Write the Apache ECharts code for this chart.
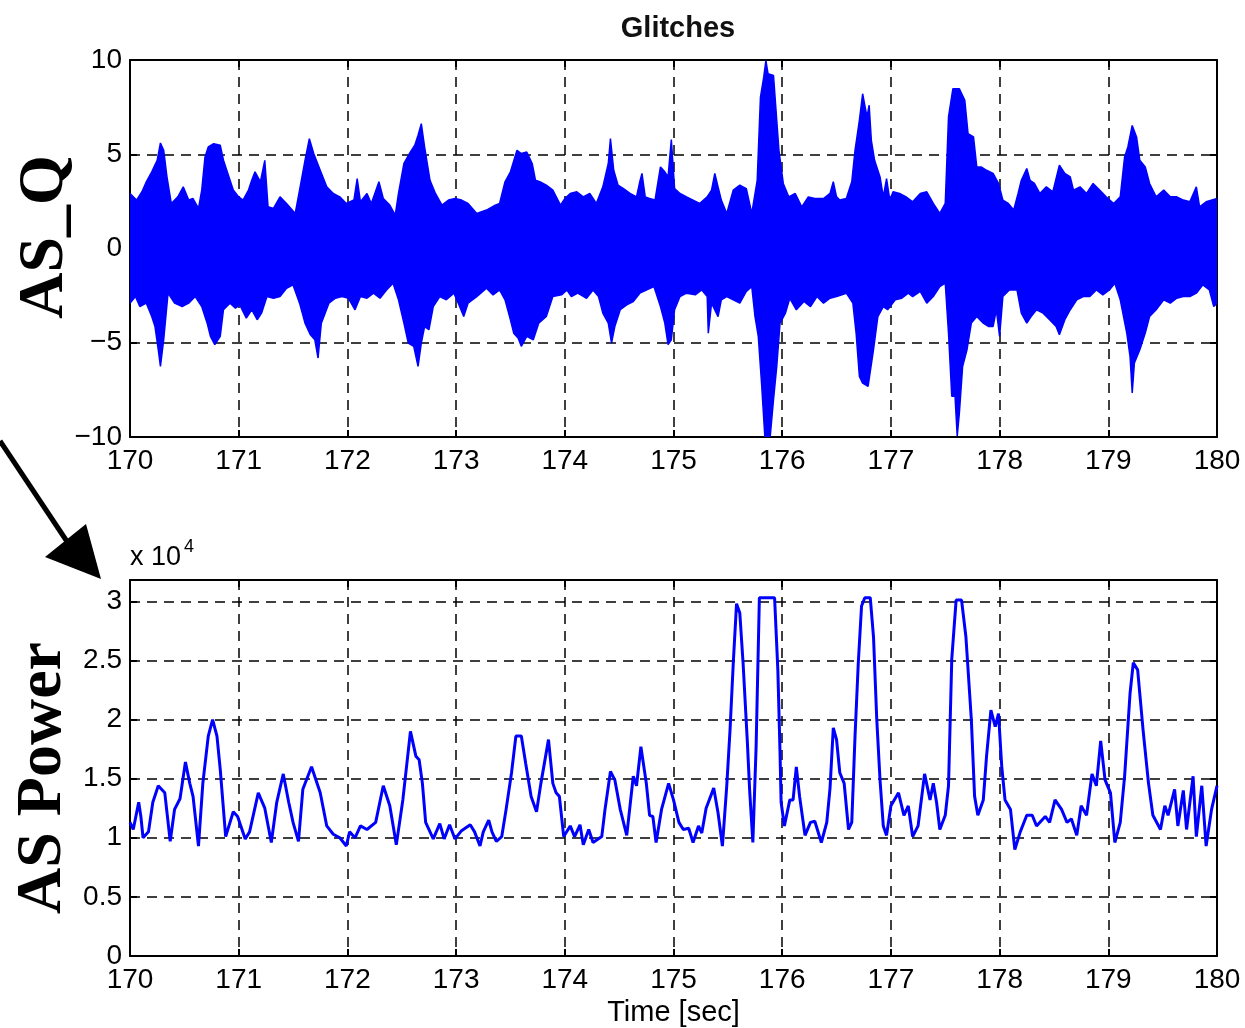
<!DOCTYPE html>
<html>
<head>
<meta charset="utf-8">
<script src="https://cdn.jsdelivr.net/npm/echarts@6/dist/echarts.min.js"></script>
<style>
html,body{margin:0;padding:0;background:#fff;}
#chart{width:1245px;height:1028px;}
</style>
</head>
<body>
<div id="chart"></div>
<script>
// ---- Data ----
var xTicks = [170, 171, 172, 173, 174, 175, 176, 177, 178, 179, 180];
var asqTicks = [-10, -5, 0, 5, 10];
var powerTicks = [0, 0.5, 1, 1.5, 2, 2.5, 3];

// AS_Q signal: upper envelope [time, value]
var asqUpper = [
[170.00,2.92],[170.06,2.57],[170.11,3.01],[170.15,3.54],[170.20,4.07],[170.25,4.68],[170.28,5.60],[170.31,5.21],[170.34,3.80],[170.38,2.39],[170.44,2.74],[170.49,3.27],[170.54,2.57],[170.58,2.65],[170.63,2.13],[170.66,3.10],[170.69,4.86],[170.72,5.39],[170.77,5.56],[170.83,5.48],[170.86,4.68],[170.90,3.98],[170.95,3.10],[171.00,2.74],[171.04,2.57],[171.09,3.10],[171.12,3.62],[171.15,4.07],[171.20,3.54],[171.24,4.68],[171.27,2.21],[171.32,2.13],[171.38,2.74],[171.44,2.39],[171.52,1.86],[171.56,3.10],[171.61,4.68],[171.65,5.83],[171.69,5.04],[171.75,4.15],[171.81,3.27],[171.87,2.92],[171.93,2.74],[171.99,2.39],[172.06,2.57],[172.09,3.71],[172.12,2.48],[172.18,2.92],[172.22,2.39],[172.29,3.54],[172.33,2.65],[172.39,2.30],[172.44,1.77],[172.47,2.92],[172.52,4.51],[172.58,5.12],[172.62,5.48],[172.65,6.01],[172.68,6.62],[172.71,5.39],[172.76,3.62],[172.81,2.92],[172.87,2.30],[172.93,2.57],[172.99,2.65],[173.05,2.57],[173.11,2.39],[173.19,1.86],
[173.28,2.04],[173.36,2.30],[173.40,2.39],[173.45,3.54],[173.50,4.07],[173.56,5.21],[173.60,5.04],[173.65,5.12],[173.70,4.51],[173.73,3.62],[173.77,3.54],[173.83,3.36],[173.89,3.10],[173.96,2.30],[174.00,2.65],[174.05,2.92],[174.11,3.01],[174.17,2.74],[174.23,2.92],[174.29,2.39],[174.35,3.27],[174.40,4.51],[174.42,5.83],[174.45,4.15],[174.49,3.36],[174.54,3.18],[174.60,2.92],[174.66,2.74],[174.69,3.54],[174.71,3.98],[174.74,2.74],[174.78,2.65],[174.83,2.57],[174.88,4.33],[174.92,4.07],[174.95,3.80],[174.98,5.78],[175.01,3.18],[175.06,2.92],[175.12,2.74],[175.18,2.57],[175.24,2.39],[175.31,2.74],[175.35,3.10],[175.38,3.98],[175.41,3.27],[175.44,2.57],[175.49,1.86],[175.55,3.10],[175.61,3.36],[175.67,3.18],[175.72,1.86],[175.77,3.62],[175.80,8.03],[175.83,9.09],[175.85,9.97],[175.87,9.27],[175.92,9.18],[175.97,5.21],[176.01,3.45],[176.06,2.74],[176.12,2.92],[176.18,2.21],[176.24,2.74],[176.30,2.65],[176.38,2.65],[176.44,2.92],[176.47,3.54],[176.50,2.74],
[176.53,2.57],[176.59,2.65],[176.64,3.54],[176.67,5.21],[176.71,6.80],[176.74,8.21],[176.78,6.98],[176.80,7.60],[176.82,5.74],[176.85,4.68],[176.90,3.80],[176.93,2.74],[176.96,3.71],[176.99,2.57],[177.02,3.01],[177.08,2.92],[177.14,2.74],[177.20,2.48],[177.27,2.92],[177.33,3.01],[177.39,2.39],[177.45,1.86],[177.50,2.39],[177.53,6.98],[177.57,8.47],[177.63,8.47],[177.68,7.86],[177.71,6.09],[177.76,5.92],[177.79,4.33],[177.83,4.33],[177.88,4.15],[177.94,3.98],[177.99,3.45],[178.03,2.57],[178.08,2.39],[178.13,2.04],[178.17,2.92],[178.20,3.62],[178.25,4.24],[178.28,3.62],[178.32,3.45],[178.37,2.92],[178.43,3.27],[178.49,3.01],[178.55,4.42],[178.60,3.98],[178.65,3.80],[178.68,3.10],[178.74,3.27],[178.80,2.92],[178.86,3.45],[178.92,3.10],[178.98,2.74],[179.05,2.39],[179.11,2.74],[179.15,4.86],[179.18,5.39],[179.22,6.53],[179.26,5.92],[179.29,4.68],[179.34,4.33],[179.38,3.45],[179.44,2.74],[179.51,3.10],[179.57,2.74],[179.63,2.74],[179.69,2.57],[179.75,2.48],[179.81,3.27],[179.84,2.21],[179.90,2.48],[180.00,2.65]
];

// AS_Q signal: lower envelope [time, value]
var asqLower = [
[170.00,-2.90],[170.05,-2.55],[170.09,-3.08],[170.15,-2.90],[170.20,-3.61],[170.23,-4.14],[170.26,-5.37],[170.28,-6.25],[170.31,-4.84],[170.35,-2.37],[170.41,-2.90],[170.48,-3.08],[170.54,-2.90],[170.60,-2.55],[170.66,-3.08],[170.71,-3.96],[170.74,-4.66],[170.78,-5.10],[170.83,-4.66],[170.86,-3.25],[170.92,-2.90],[170.97,-3.17],[171.01,-2.99],[171.07,-3.69],[171.12,-3.25],[171.17,-3.78],[171.21,-3.43],[171.26,-2.55],[171.32,-2.64],[171.38,-2.55],[171.44,-2.11],[171.50,-1.93],[171.56,-2.90],[171.61,-3.96],[171.66,-4.58],[171.70,-4.84],[171.73,-5.81],[171.76,-3.96],[171.83,-2.90],[171.89,-2.64],[171.95,-2.55],[172.01,-2.64],[172.07,-3.25],[172.12,-2.55],[172.18,-2.64],[172.24,-2.37],[172.30,-2.64],[172.36,-2.20],[172.42,-1.84],[172.47,-2.72],[172.52,-3.96],[172.56,-5.02],[172.61,-5.19],[172.65,-6.25],[172.68,-5.02],[172.71,-4.14],[172.75,-4.31],[172.79,-3.08],[172.85,-2.55],[172.91,-2.72],[172.98,-2.37],[173.02,-2.90],[173.07,-3.61],[173.11,-2.90],[173.19,-2.55],
[173.28,-2.11],[173.34,-2.46],[173.40,-2.20],[173.45,-2.72],[173.50,-3.78],[173.53,-4.49],[173.57,-4.75],[173.60,-5.19],[173.65,-4.66],[173.71,-4.84],[173.76,-3.96],[173.83,-3.61],[173.89,-2.55],[173.97,-2.46],[174.02,-2.20],[174.06,-2.55],[174.12,-2.37],[174.20,-2.64],[174.26,-2.20],[174.31,-2.55],[174.35,-3.43],[174.40,-3.96],[174.43,-5.02],[174.46,-4.14],[174.51,-3.25],[174.57,-2.99],[174.63,-2.81],[174.69,-2.37],[174.75,-2.20],[174.82,-2.02],[174.88,-3.08],[174.92,-3.96],[174.95,-5.10],[174.98,-4.84],[175.01,-3.25],[175.06,-2.55],[175.12,-2.37],[175.20,-2.46],[175.26,-2.20],[175.31,-2.55],[175.32,-4.49],[175.35,-2.90],[175.41,-3.61],[175.44,-2.72],[175.49,-2.55],[175.55,-2.72],[175.61,-2.90],[175.67,-2.28],[175.72,-2.02],[175.75,-3.61],[175.78,-4.66],[175.81,-7.14],[175.84,-9.96],[175.89,-9.96],[175.92,-8.02],[175.95,-6.25],[175.98,-3.96],[176.03,-3.43],[176.07,-2.64],[176.13,-3.25],[176.20,-2.81],[176.26,-3.08],[176.32,-2.55],[176.38,-2.90],[176.44,-2.64],[176.50,-2.55],
[176.59,-2.37],[176.65,-2.90],[176.68,-4.49],[176.71,-6.78],[176.74,-7.14],[176.79,-7.31],[176.84,-5.37],[176.88,-3.61],[176.93,-3.08],[176.97,-3.25],[177.04,-2.72],[177.10,-2.64],[177.16,-2.37],[177.20,-2.55],[177.27,-2.28],[177.33,-2.90],[177.39,-2.55],[177.45,-2.02],[177.50,-1.84],[177.53,-4.49],[177.56,-7.84],[177.59,-7.84],[177.61,-9.96],[177.63,-8.72],[177.66,-6.25],[177.70,-5.37],[177.74,-3.96],[177.79,-3.61],[177.85,-3.96],[177.90,-4.14],[177.94,-4.14],[177.97,-3.25],[178.00,-4.66],[178.03,-2.55],[178.09,-2.20],[178.16,-2.20],[178.20,-3.43],[178.25,-3.96],[178.29,-3.61],[178.34,-3.25],[178.40,-3.43],[178.46,-3.78],[178.52,-4.14],[178.55,-4.58],[178.60,-3.78],[178.65,-3.25],[178.71,-2.72],[178.77,-2.55],[178.83,-2.55],[178.89,-2.20],[178.95,-2.46],[179.01,-2.20],[179.06,-1.84],[179.11,-2.72],[179.17,-4.49],[179.20,-5.72],[179.22,-7.66],[179.24,-6.07],[179.29,-5.37],[179.34,-4.49],[179.38,-3.61],[179.44,-3.25],[179.51,-2.72],[179.57,-2.90],[179.63,-2.64],[179.69,-2.55],[179.75,-2.55],[179.81,-2.37],[179.87,-1.93],[179.93,-2.20],[179.97,-3.08],[180.00,-2.90]
];

// AS Power [time, value in units of 1e4]
var asPower = [
[170.00,1.13],[170.03,1.07],[170.08,1.30],[170.10,1.18],[170.12,1.00],[170.17,1.05],[170.21,1.30],[170.26,1.44],[170.32,1.38],[170.37,0.97],[170.41,1.24],[170.46,1.33],[170.51,1.64],[170.55,1.46],[170.58,1.35],[170.63,0.93],[170.67,1.46],[170.72,1.86],[170.76,2.00],[170.80,1.86],[170.83,1.58],[170.88,1.01],[170.95,1.22],[170.99,1.18],[171.06,0.99],[171.10,1.05],[171.18,1.38],[171.24,1.25],[171.30,0.96],[171.35,1.30],[171.41,1.54],[171.46,1.30],[171.50,1.13],[171.55,0.97],[171.59,1.41],[171.67,1.60],[171.75,1.38],[171.81,1.10],[171.87,1.03],[171.93,1.00],[171.99,0.93],[172.02,1.05],[172.07,1.00],[172.12,1.10],[172.18,1.07],[172.26,1.13],[172.33,1.44],[172.39,1.27],
[172.45,0.94],[172.51,1.32],[172.58,1.90],[172.63,1.69],[172.66,1.66],[172.69,1.46],[172.72,1.13],[172.79,0.99],[172.85,1.12],[172.89,0.99],[172.94,1.11],[172.99,0.99],[173.05,1.06],[173.13,1.11],[173.17,1.05],[173.22,0.93],[173.25,1.05],[173.30,1.15],[173.33,1.05],[173.37,0.97],[173.42,1.01],[173.46,1.24],[173.51,1.55],[173.55,1.86],[173.60,1.86],[173.64,1.63],[173.69,1.35],[173.74,1.22],[173.78,1.46],[173.85,1.83],[173.89,1.46],[173.92,1.38],[173.95,1.35],[173.99,1.01],[174.05,1.10],[174.09,1.01],[174.14,1.11],[174.17,0.94],[174.22,1.07],[174.26,0.96],[174.34,1.01],[174.37,1.24],[174.42,1.56],[174.46,1.49],[174.51,1.24],[174.57,1.02],[174.63,1.52],[174.66,1.44],[174.70,1.77],[174.75,1.46],[174.78,1.19],[174.81,1.18],[174.84,0.96],[174.89,1.24],[174.955,1.46],
[175.00,1.32],[175.05,1.13],[175.09,1.07],[175.14,1.08],[175.18,0.96],[175.23,1.10],[175.26,1.04],[175.30,1.25],[175.37,1.42],[175.41,1.21],[175.45,0.93],[175.49,1.44],[175.52,1.91],[175.55,2.48],[175.58,2.98],[175.61,2.90],[175.64,2.48],[175.68,1.80],[175.70,1.41],[175.73,0.96],[175.76,1.77],[175.79,3.03],[175.93,3.03],[175.96,2.42],[175.98,1.72],[175.99,1.30],[176.02,1.10],[176.07,1.32],[176.10,1.32],[176.13,1.60],[176.16,1.35],[176.21,1.02],[176.26,1.13],[176.30,1.14],[176.36,0.96],[176.41,1.13],[176.44,1.42],[176.47,1.93],[176.50,1.83],[176.53,1.55],[176.57,1.46],[176.61,1.07],[176.64,1.13],[176.67,1.86],[176.70,2.48],[176.73,2.96],[176.76,3.03],[176.81,3.03],[176.84,2.70],[176.87,2.00],[176.90,1.49],[176.93,1.10],[176.96,1.02],[177.00,1.27],[177.07,1.38],[177.12,1.19],[177.16,1.27],[177.20,1.01],[177.25,1.10],[177.31,1.54],[177.36,1.32],[177.39,1.46],[177.42,1.30],[177.45,1.07],[177.50,1.19],[177.53,1.44],[177.56,2.51],[177.60,3.01],[177.65,3.01],[177.69,2.70],[177.74,2.00],[177.77,1.35],[177.80,1.19],[177.85,1.32],[177.88,1.69],[177.92,2.08],[177.96,1.94],[177.99,2.05],
[178.02,1.60],[178.05,1.32],[178.10,1.24],[178.14,0.90],[178.19,1.05],[178.25,1.19],[178.30,1.19],[178.34,1.10],[178.42,1.18],[178.46,1.13],[178.51,1.32],[178.57,1.24],[178.62,1.13],[178.66,1.16],[178.71,1.02],[178.75,1.27],[178.80,1.19],[178.85,1.54],[178.89,1.44],[178.93,1.82],[178.97,1.49],[179.02,1.38],[179.06,0.96],[179.11,1.13],[179.15,1.52],[179.20,2.22],[179.23,2.48],[179.27,2.42],[179.32,1.91],[179.37,1.46],[179.41,1.19],[179.48,1.07],[179.52,1.27],[179.55,1.19],[179.61,1.41],[179.64,1.10],[179.69,1.40],[179.72,1.07],[179.78,1.52],[179.81,1.01],[179.86,1.44],[179.90,0.93],[179.95,1.24],[180.00,1.44]
];

// ---- Chart ----
var chart = echarts.init(document.getElementById('chart'), null, {renderer: 'canvas'});
var tickFont = "'Liberation Sans',Arial,sans-serif";
var dash = [10, 7];
function minus(v) { return String(v).replace('-', '\u2212'); }

function xAxisMain(grid) {
  return {
    type: 'value', gridIndex: grid, min: xTicks[0], max: xTicks[xTicks.length - 1], interval: 1,
    position: 'bottom',
    axisLine: {show: true, onZero: false, lineStyle: {color: '#000', width: 2}},
    axisTick: {show: true, inside: true, length: 7, lineStyle: {color: '#000', width: 2}},
    axisLabel: {show: true, color: '#000', fontSize: 28, fontFamily: tickFont, margin: 10, formatter: minus},
    splitLine: {show: true, lineStyle: {color: '#000', width: 1.5, type: dash}}
  };
}
function xAxisMirror(grid) {
  return {
    type: 'value', gridIndex: grid, min: xTicks[0], max: xTicks[xTicks.length - 1], interval: 1,
    position: 'top',
    axisLine: {show: true, onZero: false, lineStyle: {color: '#000', width: 2}},
    axisTick: {show: true, inside: true, length: 7, lineStyle: {color: '#000', width: 2}},
    axisLabel: {show: false}, splitLine: {show: false}
  };
}
function yAxisDef(grid, ticks, max, pos, main) {
  return {
    type: 'value', gridIndex: grid, min: ticks[0], max: max, interval: ticks[1] - ticks[0],
    position: pos,
    axisLine: {show: true, onZero: false, lineStyle: {color: '#000', width: 2}},
    axisTick: {show: true, inside: true, length: 7, lineStyle: {color: '#000', width: 2}},
    axisLabel: main ? {show: true, color: '#000', fontSize: 28, fontFamily: tickFont, margin: 8,
      showMaxLabel: max === ticks[ticks.length - 1], formatter: minus} : {show: false},
    splitLine: {show: main, lineStyle: {color: '#000', width: 1.5, type: dash}}
  };
}

var option = {
  backgroundColor: '#fff',
  animation: false,
  title: {
    text: 'Glitches', left: 673, top: 9, textAlign: 'center',
    textStyle: {fontFamily: "'Liberation Sans',Arial,sans-serif", fontWeight: 'bold', fontSize: 29, color: '#111'}
  },
  grid: [
    {left: 130, right: 28, top: 60, height: 377, containLabel: false},
    {left: 130, right: 28, top: 580, height: 377, containLabel: false}
  ],
  xAxis: [
    xAxisMain(0),
    Object.assign(xAxisMain(1), {
      name: 'Time [sec]', nameLocation: 'middle', nameGap: 42,
      nameTextStyle: {color: '#000', fontSize: 29, fontFamily: tickFont}
    }),
    xAxisMirror(0),
    xAxisMirror(1)
  ],
  yAxis: [
    yAxisDef(0, asqTicks, 10, 'left', true),
    yAxisDef(1, powerTicks, 3.18, 'left', true),
    yAxisDef(0, asqTicks, 10, 'right', false),
    yAxisDef(1, powerTicks, 3.18, 'right', false)
  ],
  series: [
    {
      type: 'line', xAxisIndex: 0, yAxisIndex: 0, data: asqUpper, symbol: 'none',
      lineStyle: {color: '#0000ff', width: 1.5}, areaStyle: {color: '#0000ff', opacity: 1, origin: -0.6},
      silent: true, z: 1
    },
    {
      type: 'line', xAxisIndex: 0, yAxisIndex: 0, data: asqLower, symbol: 'none',
      lineStyle: {color: '#0000ff', width: 1.5}, areaStyle: {color: '#0000ff', opacity: 1, origin: 0.6},
      silent: true, z: 1
    },
    {
      type: 'line', xAxisIndex: 1, yAxisIndex: 1, data: asPower, symbol: 'none',
      lineStyle: {color: '#0000ff', width: 3}, silent: true, z: 3
    }
  ],
  graphic: [
    {
      type: 'text', x: 45, y: 237, rotation: Math.PI / 2,
      style: {text: 'AS_Q', font: "bold 64px 'Liberation Serif','Times New Roman',serif", fill: '#000',
        textAlign: 'center', textVerticalAlign: 'middle'}
    },
    {
      type: 'text', x: 43, y: 778, rotation: Math.PI / 2,
      style: {text: 'AS Power', font: "bold 64px 'Liberation Serif','Times New Roman',serif", fill: '#000',
        textAlign: 'center', textVerticalAlign: 'middle'}
    },
    {
      type: 'text', x: 130, y: 558,
      style: {text: 'x 10', font: "27px " + tickFont, fill: '#000', textAlign: 'left', textVerticalAlign: 'middle'}
    },
    {
      type: 'text', x: 184, y: 547,
      style: {text: '4', font: "18px " + tickFont, fill: '#000', textAlign: 'left', textVerticalAlign: 'middle'}
    },
    {
      type: 'line', shape: {x1: 0, y1: 441, x2: 68, y2: 543},
      style: {stroke: '#000', lineWidth: 5}
    },
    {
      type: 'polygon', shape: {points: [[45, 557], [86, 524], [101, 579]]},
      style: {fill: '#000'}
    }
  ]
};
chart.setOption(option);
</script>
</body>
</html>
